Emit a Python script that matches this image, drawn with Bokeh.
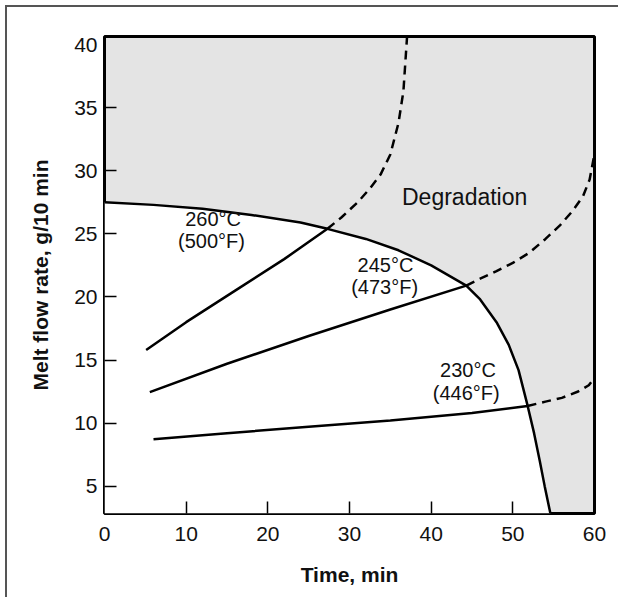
from bokeh.plotting import figure
from bokeh.models import Range1d, FixedTicker
from bokeh.embed import file_html
from bokeh.resources import INLINE
from bokeh.core.properties import value

# ---- data (time in min, melt flow rate in g/10 min) ----
boundary_t = [0, 6, 12, 18, 24, 27.3, 32, 36, 40, 44.3, 46, 48, 49.5, 50.7, 51.8, 52.6, 53.3, 53.9, 54.6]
boundary_v = [27.5, 27.3, 27.0, 26.5, 25.9, 25.4, 24.6, 23.7, 22.5, 20.9, 19.8, 18.0, 16.2, 14.2, 11.4, 9.2, 7.0, 5.0, 2.83]

t260_solid = [5.1, 10, 16, 22, 27.3]
v260_solid = [15.8, 18.0, 20.5, 23.0, 25.4]
t260_dash = [27.3, 29, 31, 32.5, 33.8, 35, 36, 36.6, 37.05]
v260_dash = [25.4, 26.3, 27.5, 28.6, 29.7, 31.3, 33.8, 36.3, 40.65]

t245_solid = [5.55, 15, 25, 35, 44.3]
v245_solid = [12.45, 14.7, 16.9, 19.0, 20.9]
t245_dash = [44.3, 46, 48, 50, 52, 54, 55.8, 57.3, 58.6, 59.4, 59.9]
v245_dash = [20.9, 21.45, 22.05, 22.7, 23.5, 24.6, 25.7, 26.8, 28.0, 29.3, 31.0]

t230_solid = [6.0, 15, 25, 35, 45, 51.8]
v230_solid = [8.72, 9.2, 9.7, 10.2, 10.8, 11.35]
t230_dash = [51.8, 54, 56, 58, 59.3, 60]
v230_dash = [11.35, 11.7, 12.0, 12.5, 13.0, 13.6]

x_ticks = [0, 10, 20, 30, 40, 50, 60]
x_tick_marks = [10, 20, 30, 40, 50]
y_ticks = [5, 10, 15, 20, 25, 30, 35, 40]
y_tick_marks = [5, 10, 15, 20, 25, 30, 35]

curve_labels = ["260°C", "(500°F)", "245°C", "(473°F)", "230°C", "(446°F)"]
region_label = "Degradation"

# ---- figure ----
X0, X1 = 0, 60
Y0, Y1 = 2.83, 40.65
FONT = "Liberation Sans"

p = figure(width=618, height=597, output_backend="svg", toolbar_location=None,
           x_range=Range1d(X0, X1), y_range=Range1d(Y0, Y1),
           min_border_left=104, min_border_right=24, min_border_top=36, min_border_bottom=84)
p.styles = {"box-shadow": "inset 5px 5px 0 0 white, inset 7px 7px 0 0 #555"}

p.background_fill_color = "#e4e4e4"
p.border_fill_color = None
p.outline_line_color = "black"
p.outline_line_width = 3
p.grid.visible = False

# white area below the degradation boundary
p.patch(boundary_t + [X0], boundary_v + [Y0], fill_color="white", line_color=None)

# boundary
p.line(boundary_t, boundary_v, line_color="black", line_width=2.5)

for ts, vs, td, vd in [(t260_solid, v260_solid, t260_dash, v260_dash),
                       (t245_solid, v245_solid, t245_dash, v245_dash),
                       (t230_solid, v230_solid, t230_dash, v230_dash)]:
    p.line(ts, vs, line_color="black", line_width=2.5)
    p.line(td, vd, line_color="black", line_width=2.5, line_dash="9 6")

# labels
lab_x = [13.3, 13.1, 34.4, 34.3, 44.5, 44.3]
lab_y = [26.2, 24.4, 22.5, 20.75, 14.2, 12.4]
p.text(lab_x, lab_y, text=curve_labels, text_align="center", text_baseline="middle",
       text_font=value(FONT), text_font_size="20px", text_color="#111")
p.text([44.1], [27.9], text=[region_label], text_align="center", text_baseline="middle",
       text_font=value(FONT), text_font_size="23px", text_color="#111")

# axes
for ax in (p.xaxis[0], p.yaxis[0]):
    ax.major_tick_in = 0
    ax.major_tick_out = 0
    ax.minor_tick_in = 12
    ax.minor_tick_out = 0
    ax.minor_tick_line_color = "black"
    ax.minor_tick_line_width = 1.5
    ax.axis_line_color = None
    ax.major_label_text_font = FONT
    ax.major_label_text_font_size = "21px"
    ax.major_label_text_color = "#111"
    ax.axis_label_text_font = FONT
    ax.axis_label_text_font_size = "21px"
    ax.axis_label_text_font_style = "bold"
    ax.axis_label_text_color = "#111"

p.xaxis.ticker = FixedTicker(ticks=x_ticks, minor_ticks=x_tick_marks)
p.yaxis.ticker = FixedTicker(ticks=y_ticks, minor_ticks=y_tick_marks)
p.xaxis.major_label_standoff = 13
p.yaxis.major_label_standoff = 7
p.xaxis.axis_label = "Time, min"
p.yaxis.axis_label = "Melt flow rate, g/10 min"
p.xaxis.axis_label_standoff = 19
p.yaxis.axis_label_standoff = 19

open("out.html", "w").write(file_html(p, INLINE))
